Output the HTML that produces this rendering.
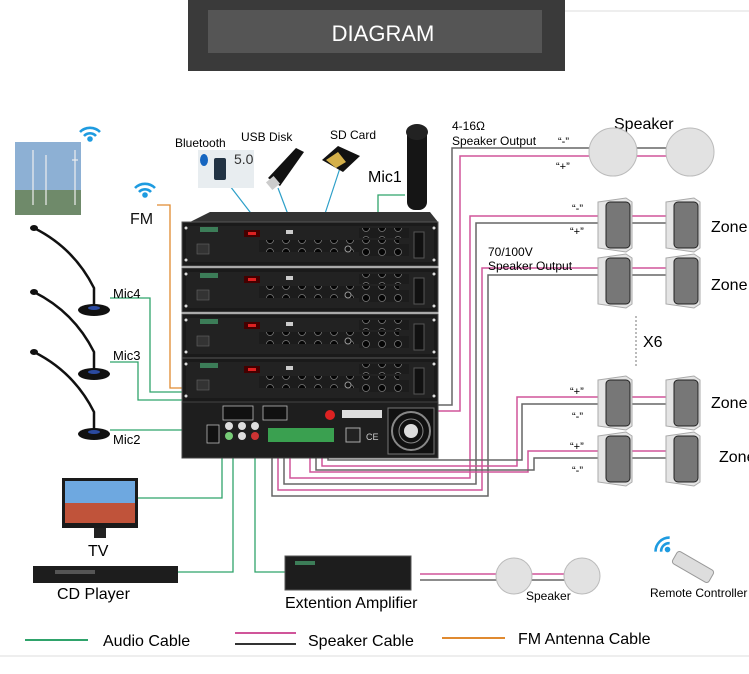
<!DOCTYPE html>
<html><head><meta charset="utf-8"><style>
html,body{margin:0;padding:0;background:#fff;width:749px;height:674px;overflow:hidden}
svg{display:block;font-family:"Liberation Sans",sans-serif}
</style></head><body>
<svg width="749" height="674" viewBox="0 0 749 674" xmlns="http://www.w3.org/2000/svg">
<defs>
<pattern id="knobs" width="16" height="12" patternUnits="userSpaceOnUse"><rect width="16" height="12" fill="#1c1c1c"/><circle cx="8" cy="6" r="3.5" fill="#050505" stroke="#777" stroke-width="0.8"/></pattern>
<g id="unit">
<rect x="0" y="0" width="256" height="44" fill="#1a1a1a" stroke="#555"/>
<rect x="4" y="4" width="248" height="36" fill="#222"/>
<rect x="18" y="5" width="18" height="5" fill="#3c7d58"/>
<rect x="62" y="8" width="16" height="7" fill="#400"/><rect x="66" y="10" width="8" height="3" fill="#d22"/>
<rect x="77" y="18" width="140" height="12" fill="url(#knobs)"/>
<rect x="15" y="22" width="12" height="10" fill="#333" stroke="#666" stroke-width="0.6"/>
<rect x="104" y="8" width="7" height="4" fill="#ccc"/>
<circle cx="166" cy="27" r="3" fill="#111" stroke="#999"/>
<rect x="177" y="6" width="50" height="10" fill="url(#knobs)"/><rect x="177" y="22" width="50" height="12" fill="url(#knobs)"/>
<rect x="232" y="10" width="10" height="26" fill="#111" stroke="#555"/>
<circle cx="4" cy="6" r="1.5" fill="#ddd"/><circle cx="252" cy="6" r="1.5" fill="#ddd"/><circle cx="4" cy="38" r="1.5" fill="#ddd"/><circle cx="252" cy="38" r="1.5" fill="#ddd"/>
</g>
<g id="box"><path d="M2 4 L30 0 L36 4 L36 50 L30 54 L2 50 Z" fill="#e4e4e4" stroke="#aaa"/><rect x="10" y="4" width="24" height="46" rx="4" fill="#777" stroke="#222"/></g>
<g id="gmic"><path d="M0 0 Q40 20 60 60 L60 78" fill="none" stroke="#111" stroke-width="2.5"/><ellipse cx="0" cy="0" rx="4" ry="3" fill="#111"/><ellipse cx="60" cy="82" rx="16" ry="6" fill="#111"/><ellipse cx="60" cy="80" rx="6" ry="2" fill="#2b4aa0"/></g>
<g id="wifi" fill="none" stroke="#1e9be0" stroke-width="2.6"><path d="M-10 -2 A14 14 0 0 1 10 -2"/><path d="M-6 2 A8 8 0 0 1 6 2"/><circle cx="0" cy="5" r="1.5" fill="#1e9be0"/></g>
</defs>

<!-- header -->
<line x1="565" y1="11" x2="749" y2="11" stroke="#ddd"/>
<rect x="188" y="0" width="377" height="71" fill="#3a3a3a"/>
<rect x="208" y="10" width="334" height="43" fill="#555"/>
<text x="383" y="41" font-size="22" fill="#fff" text-anchor="middle">DIAGRAM</text>

<!-- speaker cables -->
<g fill="none" stroke-width="1.5">
<polyline points="438,405 452,405 452,148 600,148" stroke="#666"/>
<polyline points="438,411 460,411 460,156 600,156" stroke="#d0559a"/>
<line x1="630" y1="148" x2="680" y2="148" stroke="#666"/><line x1="630" y1="156" x2="680" y2="156" stroke="#d0559a"/>
<polyline points="290,445 290,478 470,478 470,216 598,216" stroke="#d0559a"/>
<polyline points="284,445 284,484 476,484 476,223 598,223" stroke="#666"/>
<polyline points="278,445 278,490 482,490 482,268 598,268" stroke="#d0559a"/>
<polyline points="272,445 272,496 488,496 488,275 598,275" stroke="#666"/>
<polyline points="322,445 322,466 517,466 517,397 598,397" stroke="#d0559a"/>
<polyline points="328,445 328,460 522,460 522,404 598,404" stroke="#666"/>
<polyline points="310,445 310,472 528,472 528,451 598,451" stroke="#d0559a"/>
<polyline points="316,445 316,470 534,470 534,458 598,458" stroke="#666"/>
<g stroke="#d0559a"><line x1="632" y1="216" x2="666" y2="216"/><line x1="632" y1="268" x2="666" y2="268"/><line x1="632" y1="397" x2="666" y2="397"/><line x1="632" y1="451" x2="666" y2="451"/></g>
<g stroke="#666"><line x1="632" y1="223" x2="666" y2="223"/><line x1="632" y1="275" x2="666" y2="275"/><line x1="632" y1="404" x2="666" y2="404"/><line x1="632" y1="458" x2="666" y2="458"/></g>
<line x1="420" y1="574" x2="500" y2="574" stroke="#d0559a"/><line x1="420" y1="580" x2="500" y2="580" stroke="#666"/>
<line x1="530" y1="574" x2="570" y2="574" stroke="#d0559a"/><line x1="530" y1="580" x2="570" y2="580" stroke="#666"/>
</g>
<!-- audio & FM cables -->
<g fill="none" stroke="#2fa36b" stroke-width="1.3">
<polyline points="110,298 150,298 150,392 240,392 240,410"/>
<polyline points="110,362 138,362 138,400 226,400 226,410"/>
<polyline points="110,430 208,430"/>
<polyline points="137,498 222,498 222,445"/>
<polyline points="178,572 233,572 233,445"/>
<polyline points="255,445 255,572 285,572"/>
<polyline points="405,195 378,195 378,252 348,252"/>
</g>
<polyline points="157,205 170,205 170,388 277,388 277,410" fill="none" stroke="#e08a30" stroke-width="1.3"/>
<g stroke="#2d9fc8" stroke-width="1.2"><line x1="230" y1="186" x2="260" y2="225"/><line x1="278" y1="188" x2="292" y2="225"/><line x1="340" y1="168" x2="318" y2="235"/></g>

<!-- amp stack -->
<path d="M190 222 L210 212 L430 212 L438 222 Z" fill="#333"/>
<use href="#unit" x="182" y="222"/><use href="#unit" x="182" y="268"/><use href="#unit" x="182" y="314"/><use href="#unit" x="182" y="358"/>
<rect x="182" y="402" width="256" height="56" fill="#1e1e1e" stroke="#444"/>
<g fill="#111" stroke="#bbb" stroke-width="0.8"><rect x="223" y="406" width="30" height="14"/><rect x="263" y="406" width="24" height="14"/><rect x="207" y="425" width="12" height="18"/></g>
<g><circle cx="229" cy="436" r="4" fill="#7c7"/><circle cx="242" cy="436" r="4" fill="#ddd"/><circle cx="255" cy="436" r="4" fill="#c33"/><circle cx="229" cy="426" r="4" fill="#ddd"/><circle cx="242" cy="426" r="4" fill="#ddd"/><circle cx="255" cy="426" r="4" fill="#ddd"/></g>
<rect x="268" y="428" width="66" height="14" fill="#3aa050"/>
<circle cx="330" cy="415" r="5" fill="#d22"/>
<rect x="342" y="410" width="40" height="8" fill="#ddd"/>
<rect x="346" y="428" width="14" height="14" fill="#222" stroke="#aaa"/>
<text x="366" y="440" font-size="9" fill="#ccc">CE</text>
<rect x="388" y="408" width="46" height="46" fill="#111" stroke="#777"/>
<circle cx="411" cy="431" r="19" fill="none" stroke="#888" stroke-width="2"/><circle cx="411" cy="431" r="12" fill="none" stroke="#888"/><circle cx="411" cy="431" r="7" fill="#ddd"/>

<!-- sources top -->
<rect x="15" y="142" width="66" height="73" fill="#8db0d4"/><rect x="15" y="190" width="66" height="25" fill="#6f8a6a"/>
<g stroke="#eee" stroke-width="1.2"><line x1="33" y1="150" x2="33" y2="205"/><line x1="46" y1="155" x2="46" y2="205"/><line x1="75" y1="150" x2="75" y2="205"/><line x1="72" y1="160" x2="78" y2="160"/></g>
<use href="#wifi" x="90" y="134"/><use href="#wifi" x="145" y="190"/>
<text x="130" y="224" font-size="16" fill="#111">FM</text>
<text x="175" y="147" font-size="12">Bluetooth</text>
<text x="241" y="141" font-size="12">USB Disk</text>
<text x="330" y="139" font-size="12">SD Card</text>
<rect x="198" y="150" width="56" height="38" fill="#e8edf0"/><ellipse cx="204" cy="160" rx="4" ry="6" fill="#1565c0"/><rect x="214" y="158" width="12" height="22" rx="2" fill="#234"/><text x="234" y="164" font-size="14" fill="#333">5.0</text>
<path d="M268 178 L296 148 L304 152 L280 186 Z" fill="#111"/><rect x="268" y="178" width="10" height="10" fill="#ccc" transform="rotate(-40 273 183)"/>
<path d="M322 160 L338 146 L360 156 L343 172 Z" fill="#111"/><path d="M326 160 L338 152 L346 162 L336 168 Z" fill="#d4b04a"/>
<rect x="407" y="128" width="20" height="82" rx="8" fill="#151515"/><ellipse cx="417" cy="132" rx="11" ry="8" fill="#222"/>
<text x="368" y="182" font-size="16">Mic1</text>

<!-- mics -->
<use href="#gmic" x="34" y="228"/><use href="#gmic" x="34" y="292"/><use href="#gmic" x="34" y="352"/>
<text x="113" y="298" font-size="13">Mic4</text><text x="113" y="360" font-size="13">Mic3</text><text x="113" y="444" font-size="13">Mic2</text>

<!-- speakers -->
<text x="614" y="129" font-size="16">Speaker</text>
<text x="452" y="130" font-size="12">4-16Ω</text><text x="452" y="145" font-size="12">Speaker Output</text>
<text x="558" y="145" font-size="11">“-”</text><text x="556" y="170" font-size="11">“+”</text>
<circle cx="613" cy="152" r="24" fill="#e2e2e2" stroke="#bbb"/><circle cx="690" cy="152" r="24" fill="#e2e2e2" stroke="#bbb"/>
<use href="#box" x="596" y="198"/><use href="#box" x="664" y="198"/>
<use href="#box" x="596" y="254"/><use href="#box" x="664" y="254"/>
<use href="#box" x="596" y="376"/><use href="#box" x="664" y="376"/>
<use href="#box" x="596" y="432"/><use href="#box" x="664" y="432"/>
<g font-size="11"><text x="572" y="212">“-”</text><text x="570" y="235">“+”</text><text x="570" y="395">“+”</text><text x="572" y="420">“-”</text><text x="570" y="450">“+”</text><text x="572" y="474">“-”</text></g>
<text x="488" y="256" font-size="12">70/100V</text><text x="488" y="270" font-size="12">Speaker Output</text>
<line x1="636" y1="316" x2="636" y2="366" stroke="#777" stroke-dasharray="2,2"/>
<text x="643" y="347" font-size="16">X6</text>
<g font-size="16"><text x="711" y="232">Zone</text><text x="711" y="290">Zone</text><text x="711" y="408">Zone</text><text x="719" y="462">Zone</text></g>

<!-- bottom -->
<rect x="62" y="478" width="76" height="50" fill="#1a1a1a"/><rect x="65" y="481" width="70" height="42" fill="#c0533a"/><rect x="65" y="481" width="70" height="22" fill="#6ea8e0"/><rect x="94" y="528" width="12" height="10" fill="#222"/>
<text x="88" y="556" font-size="16">TV</text>
<rect x="33" y="566" width="145" height="17" fill="#1d1d1d"/><rect x="55" y="570" width="40" height="4" fill="#555"/>
<text x="57" y="599" font-size="16">CD Player</text>
<rect x="285" y="556" width="126" height="34" fill="#1d1d1d" stroke="#555"/><rect x="295" y="561" width="20" height="4" fill="#3c7d58"/>
<text x="285" y="608" font-size="16">Extention Amplifier</text>
<circle cx="514" cy="576" r="18" fill="#e2e2e2" stroke="#bbb"/><circle cx="582" cy="576" r="18" fill="#e2e2e2" stroke="#bbb"/>
<text x="526" y="600" font-size="12">Speaker</text>
<use href="#wifi" x="664" y="546" transform="rotate(-45 664 546)"/>
<rect x="672" y="560" width="42" height="14" rx="3" fill="#ddd" stroke="#999" transform="rotate(30 693 567)"/>
<text x="650" y="597" font-size="12">Remote Controller</text>

<!-- legend -->
<line x1="25" y1="640" x2="88" y2="640" stroke="#2fa36b" stroke-width="2"/>
<text x="103" y="646" font-size="16">Audio Cable</text>
<line x1="235" y1="633" x2="296" y2="633" stroke="#d0559a" stroke-width="2"/>
<line x1="235" y1="644" x2="296" y2="644" stroke="#333" stroke-width="2"/>
<text x="308" y="646" font-size="16">Speaker Cable</text>
<line x1="442" y1="638" x2="505" y2="638" stroke="#e08a30" stroke-width="2"/>
<text x="518" y="644" font-size="16">FM Antenna Cable</text>
<line x1="0" y1="656" x2="749" y2="656" stroke="#ddd"/>
</svg>
</body></html>
